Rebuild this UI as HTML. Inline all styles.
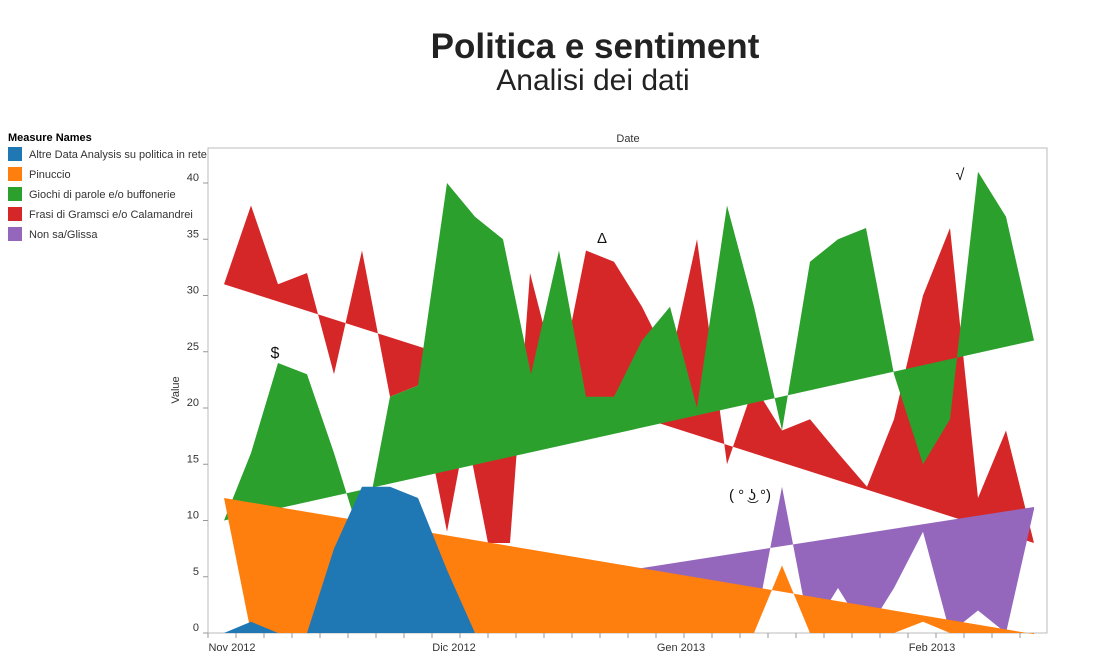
<!DOCTYPE html>
<html><head><meta charset="utf-8"><style>
body{margin:0;background:#fff;font-family:"Liberation Sans",Arial,sans-serif;}
svg text{font-family:"Liberation Sans",Arial,sans-serif;}
</style></head><body>
<svg id="s" width="1095" height="659" viewBox="0 0 1095 659" xmlns="http://www.w3.org/2000/svg">
<text x="595" y="58" font-size="35" font-weight="bold" text-anchor="middle" fill="#222">Politica e sentiment</text>
<text x="593" y="90" font-size="30" text-anchor="middle" fill="#222">Analisi dei dati</text>
<text x="8" y="141" font-size="11" font-weight="bold" fill="#000">Measure Names</text>
<rect x="8" y="147" width="14" height="14" fill="#1f77b4"/><text x="29" y="158" font-size="11" fill="#333">Altre Data Analysis su politica in rete</text>
<rect x="8" y="167" width="14" height="14" fill="#ff7f0e"/><text x="29" y="178" font-size="11" fill="#333">Pinuccio</text>
<rect x="8" y="187" width="14" height="14" fill="#2ca02c"/><text x="29" y="198" font-size="11" fill="#333">Giochi di parole e/o buffonerie</text>
<rect x="8" y="207" width="14" height="14" fill="#d62728"/><text x="29" y="218" font-size="11" fill="#333">Frasi di Gramsci e/o Calamandrei</text>
<rect x="8" y="227" width="14" height="14" fill="#9467bd"/><text x="29" y="238" font-size="11" fill="#333">Non sa/Glissa</text>
<text x="628" y="142" font-size="11" text-anchor="middle" fill="#333">Date</text>
<text x="0" y="0" font-size="11" text-anchor="middle" fill="#333" transform="translate(179,390) rotate(-90)">Value</text>
<rect x="208" y="148" width="839" height="485" fill="none" stroke="#bbb" stroke-width="1"/>
<g id="areas"></g>
<g id="axes"></g>
<text x="275" y="358" font-size="16" text-anchor="middle" fill="#111">$</text>
<text x="602" y="243" font-size="15" text-anchor="middle" fill="#111">Δ</text>
<text x="960" y="180" font-size="16" text-anchor="middle" fill="#111">√</text>
<text x="750" y="500" font-size="15" text-anchor="middle" fill="#111">( ° ͜ʖ °)</text>
</svg>
<script>
var Y=function(v){return 633-v*11.25;};
var X=[224,251,278,307,334,362,390,418,447,475,503,531,559,586,614,642,670,697,727,754,782,810,838,866,894,923,950,978,1006,1034];
function poly(pts,t0,t1,col){
  var s=pts.map(function(p){return p[0]+','+Y(p[1]);});
  var x0=pts[0][0],x1=pts[pts.length-1][0];
  function tr(x){return t0+(t1-t0)*(x-224)/(1034-224);}
  s.push(x1+','+Y(tr(x1)));s.push(x0+','+Y(tr(x0)));
  return '<polygon points="'+s.join(' ')+'" fill="'+col+'"/>';
}
var red=[[224,31],[251,38],[278,31],[307,32],[334,23],[362,34],[390,21],[418,22],[447,9],[466,18],[488,8],[510,8],[530,32],[559,22],[586,34],[614,33],[642,29],[670,24],[697,35],[727,15],[754,22],[782,18],[810,19],[838,16],[867,13],[894,19],[923,30],[950,36],[978,12],[1006,18],[1034,8]];
var gv=[10,16,24,23,16,8,21,22,40,37,35,23,34,21,21,26,29,20,38,29,18,33,35,36,23,15,19,41,37,26];
var green=X.map(function(x,i){return [x,gv[i]];});
var pv=[0,0,0,0,0,0,0,0,0,0,0,0,0,0,0,0,0,0,0,0,13,0,4,0,4,9,0,2,0,11];
var purple=X.map(function(x,i){return [x,pv[i]];});
var ov=[12,0,0,0,0,0,0,0,0,0,0,0,0,0,0,0,0,0,0,0,6,0,0,0,0,1,0,0,0,0];
var orange=X.map(function(x,i){return [x,ov[i]];});
var bv=[0,1,0,0,7.5,13,13,12,5.6,0,0,0,0,0,0,0,0,0,0,0,0,0,0,0,0,0,0,0,0,0];
var blue=X.map(function(x,i){return [x,bv[i]];});
var h='';
h+=poly(red,31,8,'#d62728');
h+=poly(green,10,26,'#2ca02c');
h+=poly(purple,0,11.2,'#9467bd');
h+=poly(orange,12,-0.1,'#ff7f0e');
h+=poly(blue,0,0,'#1f77b4');
document.getElementById('areas').innerHTML=h;
var a='';
for(var k=0;k<=8;k++){var y=633-56.25*k;a+='<line x1="203" y1="'+y+'" x2="208" y2="'+y+'" stroke="#999"/><text x="199" y="'+(y-2)+'" font-size="11" text-anchor="end" fill="#333">'+(k*5)+'</text>';}
for(var x=208;x<=1047;x+=28){a+='<line x1="'+x+'" y1="633" x2="'+x+'" y2="638" stroke="#999"/>';}
a+='<text x="232" y="651" font-size="11" text-anchor="middle" fill="#333">Nov 2012</text>';
a+='<text x="454" y="651" font-size="11" text-anchor="middle" fill="#333">Dic 2012</text>';
a+='<text x="681" y="651" font-size="11" text-anchor="middle" fill="#333">Gen 2013</text>';
a+='<text x="932" y="651" font-size="11" text-anchor="middle" fill="#333">Feb 2013</text>';
document.getElementById('axes').innerHTML=a;
</script>
</body></html>
